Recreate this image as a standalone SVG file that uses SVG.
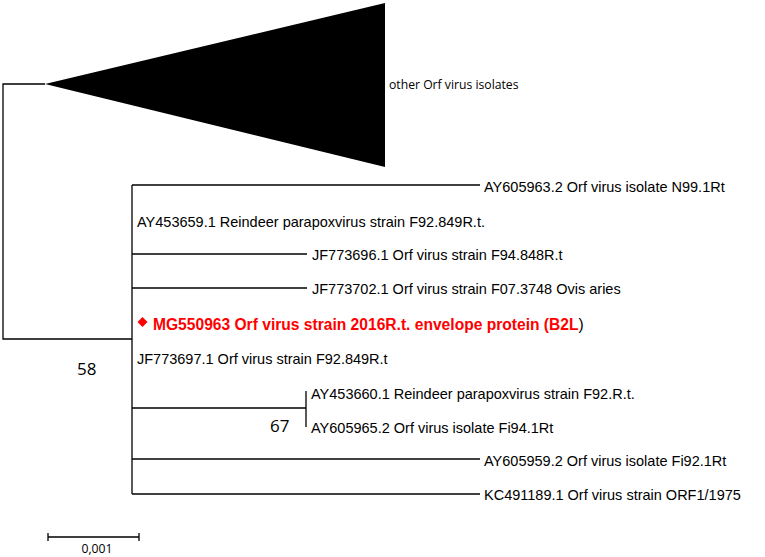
<svg xmlns="http://www.w3.org/2000/svg" width="765" height="557" viewBox="0 0 765 557">
<style>
.ln{stroke:#000;stroke-width:1.3;fill:none}
.lb{font-family:"Liberation Sans",Arial,sans-serif;font-size:14.5px;fill:#000}
.red{font-family:"Liberation Sans",Arial,sans-serif;font-size:15.6px;font-weight:bold;fill:#f00}
.bs{font-family:"Open Sans",sans-serif;font-size:17px;fill:#000}
.sm{font-family:"Open Sans",sans-serif;font-size:12.2px;fill:#000}
</style>
<rect width="765" height="557" fill="#fff"/>
<g id="connectors">
<path class="ln" d="M45,84 H3 V339 H132"/>
<path class="ln" d="M132,185 V494"/>
<path class="ln" d="M132,185 H480"/>
<path class="ln" d="M132,254 H307"/>
<path class="ln" d="M132,288 H307"/>
<path class="ln" d="M132,408 H306 M306,391 V427"/>
<path class="ln" d="M132,459 H480"/>
<path class="ln" d="M132,494 H480"/>
</g>
<g id="collapsed-clade">
<polygon points="45,84 385,3 385,167" fill="#000"/>
<text class="sm" x="389" y="89">other Orf virus isolates</text>
</g>
<g id="n-AY605963"><text class="lb" x="484" y="192">AY605963.2 Orf virus isolate N99.1Rt</text></g>
<g id="n-AY453659"><text class="lb" x="137" y="227">AY453659.1 Reindeer parapoxvirus strain F92.849R.t.</text></g>
<g id="n-JF773696"><text class="lb" x="312" y="260">JF773696.1 Orf virus strain F94.848R.t</text></g>
<g id="n-JF773702"><text class="lb" x="312" y="294">JF773702.1 Orf virus strain F07.3748 Ovis aries</text></g>
<g id="n-MG550963">
<polygon points="142.5,317 147.5,322 142.5,327 137.5,322" fill="#f00"/>
<text class="red" x="153" y="330">MG550963 Orf virus strain 2016R.t. envelope protein (B2L<tspan fill="#000" font-weight="normal">)</tspan></text>
</g>
<g id="n-JF773697"><text class="lb" x="137" y="364">JF773697.1 Orf virus strain F92.849R.t</text></g>
<g id="n-AY453660"><text class="lb" x="311" y="399">AY453660.1 Reindeer parapoxvirus strain F92.R.t.</text></g>
<g id="n-AY605965"><text class="lb" x="311" y="433">AY605965.2 Orf virus isolate Fi94.1Rt</text></g>
<g id="n-AY605959"><text class="lb" x="484" y="466">AY605959.2 Orf virus isolate Fi92.1Rt</text></g>
<g id="n-KC491189"><text class="lb" x="484" y="500">KC491189.1 Orf virus strain ORF1/1975</text></g>
<g id="bootstrap">
<text class="bs" x="77" y="375">58</text>
<text class="bs" x="270" y="432">67</text>
</g>
<g id="scale">
<path class="ln" d="M48,537 H139 M48,533 V541 M139,533 V541"/>
<text class="sm" x="97" y="553" text-anchor="middle" font-size="12.5px">0,001</text>
</g>
</svg>
